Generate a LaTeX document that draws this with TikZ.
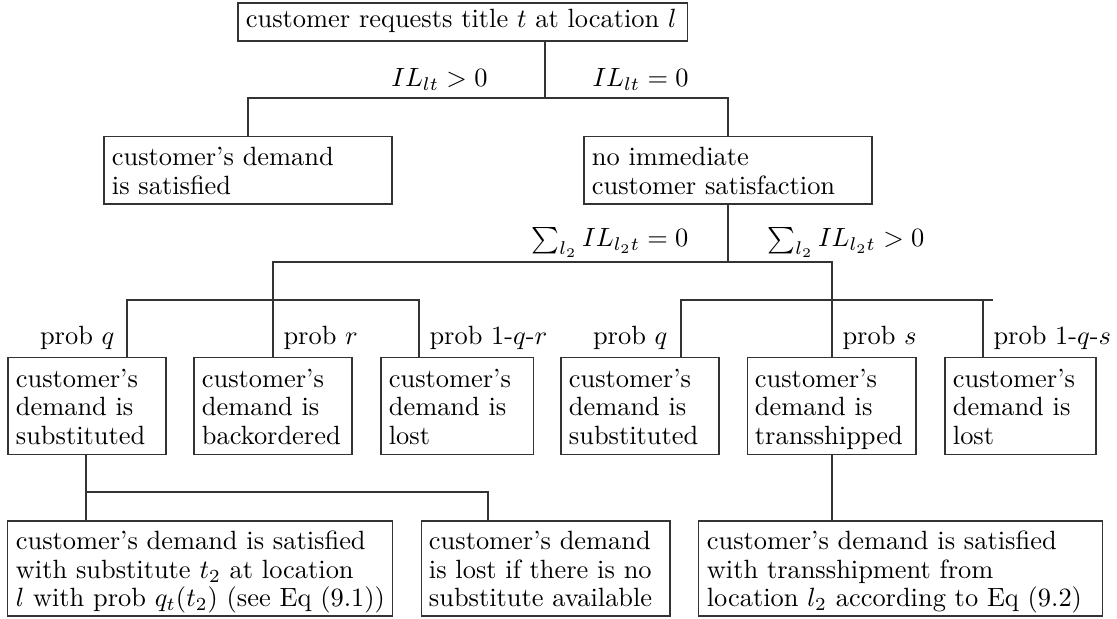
\documentclass[tikz,border=0pt]{standalone}
% box contents: left-aligned lines, lowered slightly inside the frame
\newcommand{\boxlines}[2][1.5pt]{\raisebox{-#1}[\height][\depth]{\begin{tabular}{@{}l@{}}#2\end{tabular}}}
\begin{document}
\begin{tikzpicture}[x=0.3788pt,y=-0.3788pt,
  every node/.style={font=\fontsize{10}{10.8}\selectfont},
  box/.style={draw=black!80, line width=0.4pt, rectangle, inner xsep=3pt, inner ysep=0pt, align=left},
  lbl/.style={inner sep=0pt},
  link/.style={draw=black!80, line width=0.4pt}]
\useasboundingbox (0,0) rectangle (1117,619);

% boxes
\node[box, text width=164.1pt, minimum height=14.4pt] (top) at (462.5,22)
  {\boxlines[0pt]{customer requests title $t$ at location $l$}};
\node[box, text width=103.1pt, minimum height=25.4pt] (sat) at (248,170.5)
  {\boxlines{customer's demand\\ is satisfied}};
\node[box, text width=103.1pt, minimum height=25.4pt] (noimm) at (728,170.5)
  {\boxlines{no immediate\\ customer satisfaction}};

\node[box, text width=53.85pt, minimum height=36.4pt] (subA) at (87,406)
  {\boxlines{customer's\\ demand is\\ substituted}};
\node[box, text width=53.85pt, minimum height=36.4pt] (back) at (273,406)
  {\boxlines{customer's\\ demand is\\ backordered}};
\node[box, text width=51.6pt, minimum height=36.4pt] (lostA) at (457,406)
  {\boxlines{customer's\\ demand is\\ lost}};
\node[box, text width=53.85pt, minimum height=36.4pt] (subB) at (640,406)
  {\boxlines{customer's\\ demand is\\ substituted}};
\node[box, text width=58.0pt, minimum height=36.4pt] (trans) at (831.5,406)
  {\boxlines{customer's\\ demand is\\ transshipped}};
\node[box, text width=51.2pt, minimum height=36.4pt] (lostB) at (1020.5,406)
  {\boxlines{customer's\\ demand is\\ lost}};

\node[box, text width=139.5pt, minimum height=36.0pt] (withsub) at (200,568.5)
  {\boxlines{customer's demand is satisfied\\ with substitute $t_2$ at location\\ $l$ with prob $q_t(t_2)$ (see Eq (9.1))}};
\node[box, text width=88.3pt, minimum height=36.0pt] (nosub) at (545.5,568.5)
  {\boxlines{customer's demand\\ is lost if there is no\\ substitute available}};
\node[box, text width=146.7pt, minimum height=36.0pt] (withtr) at (900.5,568.5)
  {\boxlines{customer's demand is satisfied\\ with transshipment from\\ location $l_2$ according to Eq (9.2)}};

% branch labels
\node[lbl, anchor=base east] (g1) at (488,87) {$IL_{lt} > 0$};
\node[lbl, anchor=base west] (g2) at (592,87) {$IL_{lt} = 0$};
\node[lbl, anchor=base east] (g3) at (689,247) {$\sum_{l_2} IL_{l_2t} = 0$};
\node[lbl, anchor=base west] (g4) at (767,247) {$\sum_{l_2} IL_{l_2t} > 0$};
\node[lbl, anchor=base east] (p1) at (115,345) {prob $q$};
\node[lbl, anchor=base west] (p2) at (283,345) {prob $r$};
\node[lbl, anchor=base west] (p3) at (429,345) {prob 1-$q$-$r$};
\node[lbl, anchor=base east] (p4) at (668,345) {prob $q$};
\node[lbl, anchor=base west] (p5) at (842,345) {prob $s$};
\node[lbl, anchor=base west] (p6) at (993,345) {prob 1-$q$-$s$};

% junctions of the tree
\coordinate (c1) at (545,98);
\coordinate (c2) at (728,262);
\coordinate (c3) at (273,300);
\coordinate (c4) at (832,300);
\coordinate (d1) at (127,300);
\coordinate (d3) at (419,300);
\coordinate (d4) at (681,300);
\coordinate (d6) at (983,300);
\coordinate (e6) at (993,300);
\coordinate (c5) at (86,492);
\coordinate (d7) at (488,492);

% connectors
\draw[link] (top.south -| c1) -- (c1);
\draw[link] (sat.north) |- (c1) -| (noimm.north);
\draw[link] (noimm.south -| c2) -- (c2);
\draw[link] (back.north -| c3) |- (c2) -| (c4);
\draw[link] (subA.north -| d1) -- (d1) -- (d3) -- (lostA.north -| d3);
\draw[link] (subB.north -| d4) -- (d4) -- (e6);
\draw[link] (d6) -- (lostB.north -| d6);
\draw[link] (c4) -- (trans.north -| c4);
\draw[link] (subA.south -| c5) -- (withsub.north -| c5);
\draw[link] (c5) -- (d7) -- (nosub.north -| d7);
\draw[link] (trans.south -| c4) -- (withtr.north -| c4);
\end{tikzpicture}
\end{document}
